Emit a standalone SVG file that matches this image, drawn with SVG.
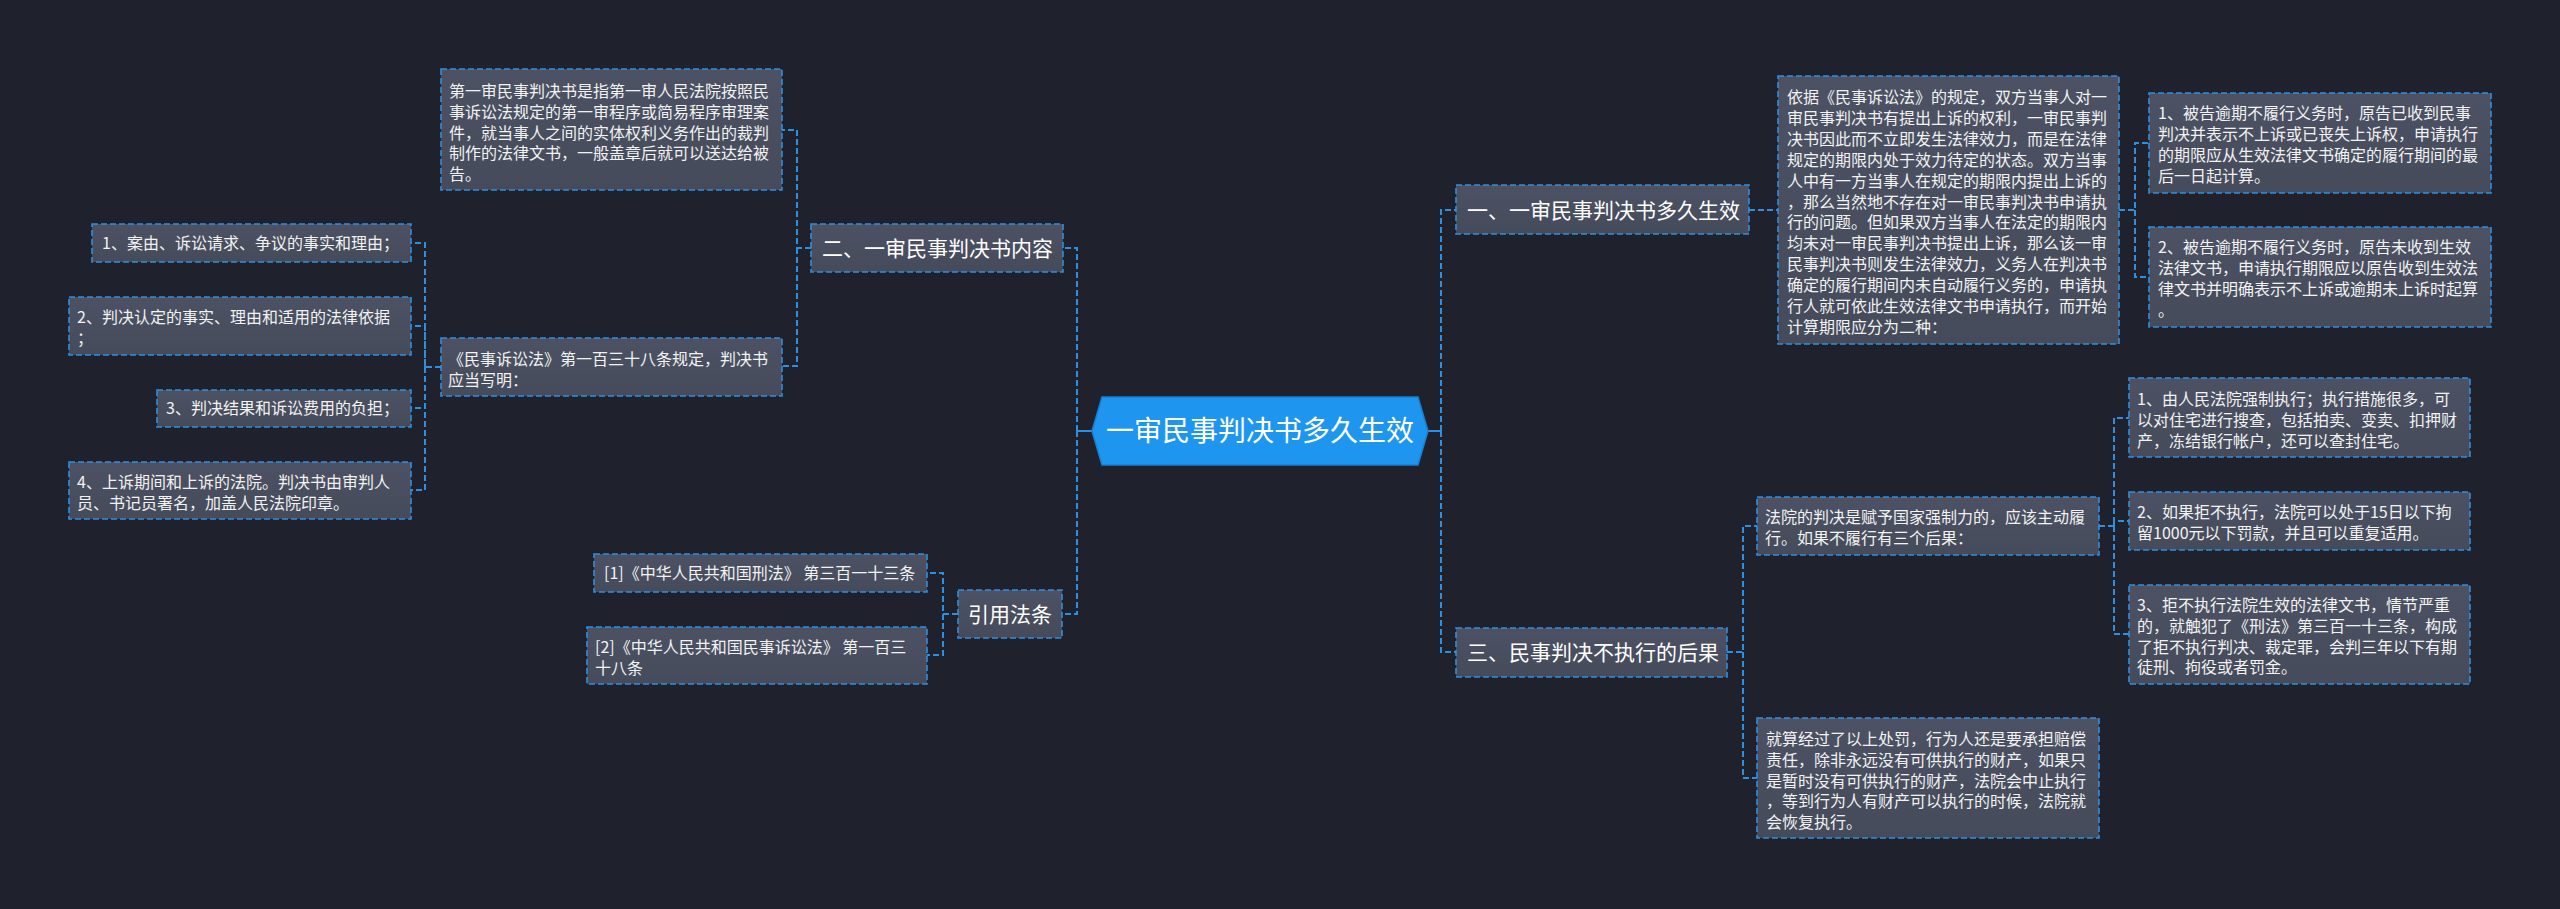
<svg xmlns="http://www.w3.org/2000/svg" width="2560" height="909" viewBox="0 0 2560 909">
<defs>
<linearGradient id="boxg" x1="0" y1="0" x2="0" y2="1">
<stop offset="0" stop-color="#4c5264"/>
<stop offset="1" stop-color="#454b5a"/>
</linearGradient>
</defs>
<style>
.bg{fill:#1f222c}
.box{fill:url(#boxg);stroke:#2d8fdf;stroke-width:1.6;stroke-dasharray:6 3}
.t{font-family:"Noto Sans CJK SC","Noto Sans",sans-serif;fill:#f2f2f2;font-size:16px}
.t2{font-family:"Noto Sans CJK SC","Noto Sans",sans-serif;fill:#ffffff;font-size:21px}
.tc{font-family:"Noto Sans CJK SC","Noto Sans",sans-serif;fill:#ffffff;font-size:28px}
.c{fill:none;stroke:#2d8fdf;stroke-width:2;stroke-dasharray:6 3}
.cs{fill:none;stroke:#2d8fdf;stroke-width:2}
</style>
<rect class="bg" x="0" y="0" width="2560" height="909"/>

<g id="connectors">
<path class="cs" d="M1092 431 H1077"/>
<path class="c" d="M1077 431 V248 H1063"/>
<path class="c" d="M1077 431 V614 H1062"/>
<path class="c" d="M811 248 H797 V130 H782"/>
<path class="c" d="M797 248 V366 H782"/>
<path class="c" d="M441 367 H425 V243 H411"/>
<path class="c" d="M425 367 V326 H411"/>
<path class="c" d="M425 367 V408 H411"/>
<path class="c" d="M425 367 V490 H411"/>
<path class="c" d="M958 614 H943 V573 H927"/>
<path class="c" d="M943 614 V655 H927"/>
<path class="cs" d="M1428 431 H1441"/>
<path class="c" d="M1441 431 V210 H1456"/>
<path class="c" d="M1441 431 V652 H1456"/>
<path class="c" d="M1749 210 H1778"/>
<path class="c" d="M2119 210 H2135 V143 H2149"/>
<path class="c" d="M2135 210 V277 H2149"/>
<path class="c" d="M1727 652 H1743 V526 H1757"/>
<path class="c" d="M1743 652 V778 H1757"/>
<path class="c" d="M2099 526 H2114 V418 H2129"/>
<path class="c" d="M2114 526 V521 H2129"/>
<path class="c" d="M2114 526 V634 H2129"/>
</g>

<g id="root">
<polygon points="1092,431 1102,397 1418,397 1428,431 1418,465 1102,465" fill="#1e96f0" stroke="#1a7fd0" stroke-width="1.5"/>
<text class="tc" x="1260" y="441" text-anchor="middle">一审民事判决书多久生效</text>
</g>

<g id="n2">
<rect class="box" x="811" y="224" width="252" height="48"/>
<text class="t2" x="822" y="255.5">二、一审民事判决书内容</text>
</g>
<g id="n2a">
<rect class="box" x="441" y="69" width="341" height="121"/>
<text class="t" x="449" y="97"><tspan x="449">第一审民事判决书是指第一审人民法院按照民</tspan><tspan x="449" dy="20.8">事诉讼法规定的第一审程序或简易程序审理案</tspan><tspan x="449" dy="20.8">件，就当事人之间的实体权利义务作出的裁判</tspan><tspan x="449" dy="20.8">制作的法律文书，一般盖章后就可以送达给被</tspan><tspan x="449" dy="20.8">告。</tspan></text>
</g>
<g id="n2b">
<rect class="box" x="441" y="338" width="341" height="58"/>
<text class="t" x="448" y="365"><tspan x="448">《民事诉讼法》第一百三十八条规定，判决书</tspan><tspan x="448" dy="20.5">应当写明：</tspan></text>
</g>
<g id="n2b1">
<rect class="box" x="92" y="224" width="319" height="38"/>
<text class="t" x="102" y="249">1、案由、诉讼请求、争议的事实和理由；</text>
</g>
<g id="n2b2">
<rect class="box" x="69" y="297" width="342" height="58"/>
<text class="t" x="77" y="323"><tspan x="77">2、判决认定的事实、理由和适用的法律依据</tspan><tspan x="77" dy="20.8">；</tspan></text>
</g>
<g id="n2b3">
<rect class="box" x="157" y="390" width="254" height="37"/>
<text class="t" x="166" y="414">3、判决结果和诉讼费用的负担；</text>
</g>
<g id="n2b4">
<rect class="box" x="69" y="462" width="342" height="57"/>
<text class="t" x="77" y="488"><tspan x="77">4、上诉期间和上诉的法院。判决书由审判人</tspan><tspan x="77" dy="20.8">员、书记员署名，加盖人民法院印章。</tspan></text>
</g>

<g id="n4">
<rect class="box" x="958" y="590" width="104" height="48"/>
<text class="t2" x="1010" y="621.5" text-anchor="middle">引用法条</text>
</g>
<g id="n4a">
<rect class="box" x="594" y="554" width="333" height="38"/>
<text class="t" x="604" y="579">[1]《中华人民共和国刑法》 第三百一十三条</text>
</g>
<g id="n4b">
<rect class="box" x="587" y="627" width="340" height="57"/>
<text class="t" x="595" y="653"><tspan x="595">[2]《中华人民共和国民事诉讼法》 第一百三</tspan><tspan x="595" dy="20.8">十八条</tspan></text>
</g>

<g id="n1">
<rect class="box" x="1456" y="185" width="293" height="49"/>
<text class="t2" x="1467" y="217.5">一、一审民事判决书多久生效</text>
</g>
<g id="n1a">
<rect class="box" x="1778" y="76" width="341" height="268"/>
<text class="t" x="1787" y="103"><tspan x="1787">依据《民事诉讼法》的规定，双方当事人对一</tspan><tspan x="1787" dy="20.9">审民事判决书有提出上诉的权利，一审民事判</tspan><tspan x="1787" dy="20.9">决书因此而不立即发生法律效力，而是在法律</tspan><tspan x="1787" dy="20.9">规定的期限内处于效力待定的状态。双方当事</tspan><tspan x="1787" dy="20.9">人中有一方当事人在规定的期限内提出上诉的</tspan><tspan x="1787" dy="20.9">，那么当然地不存在对一审民事判决书申请执</tspan><tspan x="1787" dy="20.9">行的问题。但如果双方当事人在法定的期限内</tspan><tspan x="1787" dy="20.9">均未对一审民事判决书提出上诉，那么该一审</tspan><tspan x="1787" dy="20.9">民事判决书则发生法律效力，义务人在判决书</tspan><tspan x="1787" dy="20.9">确定的履行期间内未自动履行义务的，申请执</tspan><tspan x="1787" dy="20.9">行人就可依此生效法律文书申请执行，而开始</tspan><tspan x="1787" dy="20.9">计算期限应分为二种：</tspan></text>
</g>
<g id="n1a1">
<rect class="box" x="2149" y="93" width="342" height="100"/>
<text class="t" x="2158" y="119"><tspan x="2158">1、被告逾期不履行义务时，原告已收到民事</tspan><tspan x="2158" dy="21">判决并表示不上诉或已丧失上诉权，申请执行</tspan><tspan x="2158" dy="21">的期限应从生效法律文书确定的履行期间的最</tspan><tspan x="2158" dy="21">后一日起计算。</tspan></text>
</g>
<g id="n1a2">
<rect class="box" x="2149" y="227" width="342" height="100"/>
<text class="t" x="2158" y="253"><tspan x="2158">2、被告逾期不履行义务时，原告未收到生效</tspan><tspan x="2158" dy="21">法律文书，申请执行期限应以原告收到生效法</tspan><tspan x="2158" dy="21">律文书并明确表示不上诉或逾期未上诉时起算</tspan><tspan x="2158" dy="21">。</tspan></text>
</g>

<g id="n3">
<rect class="box" x="1456" y="628" width="271" height="49"/>
<text class="t2" x="1467" y="659.5">三、民事判决不执行的后果</text>
</g>
<g id="n3a">
<rect class="box" x="1757" y="497" width="342" height="58"/>
<text class="t" x="1765" y="523"><tspan x="1765">法院的判决是赋予国家强制力的，应该主动履</tspan><tspan x="1765" dy="20.8">行。如果不履行有三个后果：</tspan></text>
</g>
<g id="n3a1">
<rect class="box" x="2129" y="378" width="341" height="79"/>
<text class="t" x="2137" y="405"><tspan x="2137">1、由人民法院强制执行；执行措施很多，可</tspan><tspan x="2137" dy="20.8">以对住宅进行搜查，包括拍卖、变卖、扣押财</tspan><tspan x="2137" dy="20.8">产，冻结银行帐户，还可以查封住宅。</tspan></text>
</g>
<g id="n3a2">
<rect class="box" x="2129" y="492" width="341" height="58"/>
<text class="t" x="2137" y="518"><tspan x="2137">2、如果拒不执行，法院可以处于15日以下拘</tspan><tspan x="2137" dy="20.8">留1000元以下罚款，并且可以重复适用。</tspan></text>
</g>
<g id="n3a3">
<rect class="box" x="2129" y="585" width="341" height="99"/>
<text class="t" x="2137" y="611"><tspan x="2137">3、拒不执行法院生效的法律文书，情节严重</tspan><tspan x="2137" dy="20.8">的，就触犯了《刑法》第三百一十三条，构成</tspan><tspan x="2137" dy="20.8">了拒不执行判决、裁定罪，会判三年以下有期</tspan><tspan x="2137" dy="20.8">徒刑、拘役或者罚金。</tspan></text>
</g>
<g id="n3b">
<rect class="box" x="1757" y="718" width="342" height="120"/>
<text class="t" x="1766" y="745"><tspan x="1766">就算经过了以上处罚，行为人还是要承担赔偿</tspan><tspan x="1766" dy="20.8">责任，除非永远没有可供执行的财产，如果只</tspan><tspan x="1766" dy="20.8">是暂时没有可供执行的财产，法院会中止执行</tspan><tspan x="1766" dy="20.8">，等到行为人有财产可以执行的时候，法院就</tspan><tspan x="1766" dy="20.8">会恢复执行。</tspan></text>
</g>
</svg>
